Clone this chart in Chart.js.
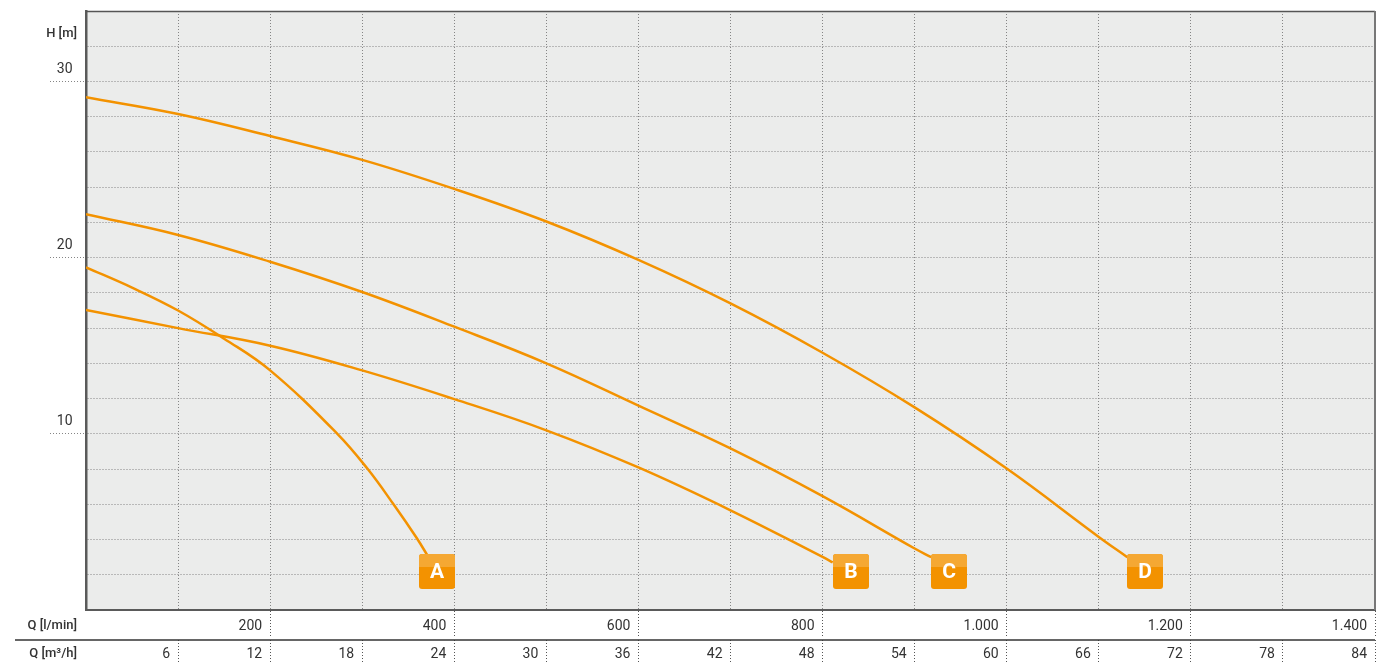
<!DOCTYPE html>
<html>
<head>
<meta charset="utf-8">
<script src="https://cdn.jsdelivr.net/npm/chart.js@4.4.1/dist/chart.umd.min.js"></script>
<style>
  html, body { margin: 0; padding: 0; background: #fff; }
  #wrap { position: relative; width: 1392px; height: 664px; }
</style>
</head>
<body>
<div id="wrap"><canvas id="pump-curves"></canvas></div>
<script>
// flow Q in l/min, head H in m
const qA = [0, 50, 100, 150, 200, 273, 306, 334, 359, 372];
const hA = [19.45, 18.3, 17.0, 15.4, 13.6, 10.0, 8.0, 6.0, 4.1, 3.0];

const qB = [0, 100, 200, 300, 400, 500, 600, 700, 800, 811];
const hB = [17.03, 16.0, 15.0, 13.6, 11.97, 10.2, 8.09, 5.66, 3.01, 2.7];

const qC = [0, 100, 200, 300, 400, 500, 600, 700, 800, 900, 918];
const hC = [22.47, 21.29, 19.77, 18.05, 16.08, 14.0, 11.6, 9.17, 6.46, 3.49, 3.0];

const qD = [0, 100, 200, 300, 400, 500, 600, 700, 800, 900, 1000, 1100, 1131];
const hD = [29.1, 28.15, 26.9, 25.55, 23.9, 22.05, 19.87, 17.4, 14.6, 11.5, 8.03, 4.15, 3.0];

// curve tags
const tagNames = ["A", "B", "C", "D"];
const tagQ = [381, 831, 937, 1150];
const tagH = [2.2, 2.2, 2.2, 2.2];

// axis ticks
const yTickLabels = [10, 20, 30];
const qTickLabels = [200, 400, 600, 800, 1000, 1200, 1400];   // l/min
const m3hTickLabels = [6, 12, 18, 24, 30, 36, 42, 48, 54, 60, 66, 72, 78, 84];

const ORANGE = "#F39200";
const GRID = "#858585";
const TEXT = "#333";
const FONT = "Roboto, 'DejaVu Sans', sans-serif";

function toPoints(qs, hs) {
  return qs.map((q, i) => ({ x: q, y: hs[i] }));
}

function fmtThousands(v) {
  return String(v).replace(/\B(?=(\d{3})+(?!\d))/g, ".");
}

function curve(label, qs, hs) {
  return {
    label,
    data: toPoints(qs, hs),
    borderColor: ORANGE,
    borderWidth: 2.5,
    pointRadius: 0,
    fill: false,
    tension: 0.4,
  };
}

const plotFrame = {
  id: "plotFrame",
  beforeDraw(chart) {
    const { ctx, chartArea: a } = chart;
    ctx.save();
    ctx.fillStyle = "#EBECEB";
    ctx.fillRect(a.left, a.top, a.right - a.left, a.bottom - a.top);
    ctx.restore();
  },
  afterDraw(chart) {
    const { ctx, chartArea: a } = chart;
    const x2 = chart.scales.x2;
    ctx.save();
    // top + right edges of the plot
    ctx.strokeStyle = "#555";
    ctx.lineWidth = 1.5;
    ctx.beginPath();
    ctx.moveTo(a.left, a.top + 0.5);
    ctx.lineTo(a.right, a.top + 0.5);
    ctx.stroke();
    ctx.strokeStyle = "#777";
    ctx.lineWidth = 2;
    ctx.beginPath();
    ctx.moveTo(a.right, a.top);
    ctx.lineTo(a.right, a.bottom);
    ctx.stroke();

    // separator between the two Q rows
    ctx.strokeStyle = "#333";
    ctx.lineWidth = 1.5;
    ctx.beginPath();
    ctx.moveTo(15, x2.top);
    ctx.lineTo(a.right, x2.top);
    ctx.stroke();

    // axis titles
    ctx.fillStyle = TEXT;
    ctx.textAlign = "right";
    ctx.textBaseline = "middle";
    ctx.font = "500 13px " + FONT;
    const yPx = chart.scales.y.getPixelForValue(32);
    ctx.fillText("H [m]", 77, yPx - 12.5);
    ctx.fillText("Q [l/min]", 77, 625.5);
    ctx.fillText("Q [m³/h]", 77, 654);
    ctx.restore();
  },
};

const curveTags = {
  id: "curveTags",
  afterDatasetsDraw(chart) {
    const { ctx, scales } = chart;
    const w = 36, h = 35, r = 3;
    ctx.save();
    tagNames.forEach((name, i) => {
      const cx = scales.x.getPixelForValue(tagQ[i]);
      const cy = scales.y.getPixelForValue(tagH[i]);
      const x = Math.round(cx - w / 2), y = Math.round(cy - h / 2);
      ctx.beginPath();
      ctx.roundRect(x, y, w, h, r);
      ctx.fillStyle = ORANGE;
      ctx.fill();
      ctx.beginPath();
      ctx.roundRect(x, y, w, 13, [r, r, 0, 0]);
      ctx.fillStyle = "#F5A833";
      ctx.fill();
      ctx.fillStyle = "#fff";
      ctx.font = "bold 21px " + FONT;
      ctx.textAlign = "center";
      ctx.textBaseline = "middle";
      ctx.fillText(name, x + w / 2, y + h / 2 + 1);
    });
    ctx.restore();
  },
};

new Chart(document.getElementById("pump-curves"), {
  type: "line",
  data: {
    datasets: [
      curve("A", qA, hA),
      curve("B", qB, hB),
      curve("C", qC, hC),
      curve("D", qD, hD),
    ],
  },
  options: {
    responsive: true,
    maintainAspectRatio: false,
    animation: false,
    events: [],
    layout: { padding: { top: 11, right: 17, left: 0, bottom: 0 } },
    plugins: { legend: { display: false }, tooltip: { enabled: false } },
    scales: {
      x: {
        type: "linear",
        position: "bottom",
        weight: 1,
        min: 0,
        max: 1400,
        border: { display: true, color: "#5a5a5a", width: 2, dash: [1, 2] },
        grid: {
          color: GRID,
          lineWidth: 1,
          tickLength: 28,
          tickBorderDash: [1, 2],
          tickColor: (c) => (qTickLabels.includes(c.tick.value) ? "#555" : "transparent"),
        },
        ticks: {
          stepSize: 100,
          autoSkip: false,
          maxRotation: 0,
          align: "end",
          labelOffset: -8,
          padding: -20,
          color: TEXT,
          font: { family: FONT, size: 14 },
          callback: (v) => (qTickLabels.includes(v) ? fmtThousands(v) : ""),
        },
        afterFit(s) {
          s.height = 30;
          s.paddingLeft = 0;
          s.paddingRight = 0;
        },
      },
      x2: {
        type: "linear",
        position: "bottom",
        weight: 2,
        min: 0,
        max: 84,
        border: { display: false },
        grid: {
          drawOnChartArea: false,
          tickLength: 24,
          tickBorderDash: [1, 2],
          tickColor: (c) => (c.tick.value > 0 ? "#555" : "transparent"),
        },
        ticks: {
          stepSize: 6,
          autoSkip: false,
          maxRotation: 0,
          align: "end",
          labelOffset: -8,
          padding: -18,
          color: TEXT,
          font: { family: FONT, size: 14 },
          callback: (v) => (m3hTickLabels.includes(v) ? String(v) : ""),
        },
        afterFit(s) {
          s.height = 24;
          s.paddingLeft = 0;
          s.paddingRight = 0;
        },
      },
      y: {
        type: "linear",
        min: 0,
        max: 34,
        border: { display: true, color: "#5a5a5a", width: 2.5, dash: [1, 2] },
        grid: {
          color: GRID,
          lineWidth: 1,
          tickLength: 36,
          tickBorderDash: [1, 2],
          tickColor: (c) => (yTickLabels.includes(c.tick.value) ? GRID : "transparent"),
        },
        ticks: {
          stepSize: 2,
          autoSkip: false,
          labelOffset: -12,
          padding: -22.5,
          color: TEXT,
          font: { family: FONT, size: 14 },
          callback: (v) => (yTickLabels.includes(v) ? String(v) : ""),
        },
        afterFit(s) {
          s.width = 86;
          s.paddingTop = 0;
          s.paddingBottom = 0;
        },
      },
    },
  },
  plugins: [plotFrame, curveTags],
});
</script>
</body>
</html>
